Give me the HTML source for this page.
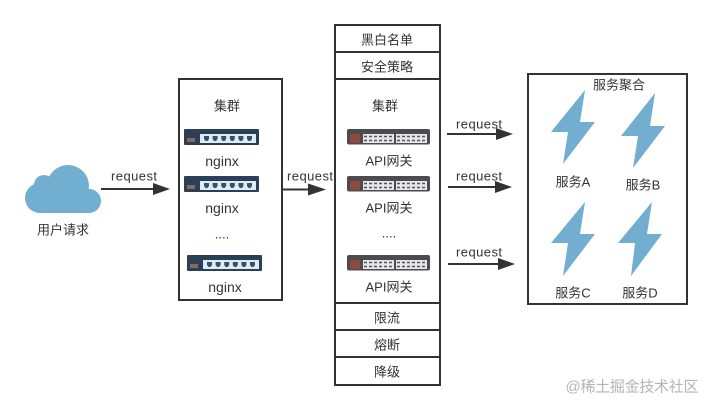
<!DOCTYPE html>
<html>
<head>
<meta charset="utf-8">
<style>
html,body{margin:0;padding:0;background:#fff;width:712px;height:409px;overflow:hidden}
svg{display:block;filter:blur(0.35px)}
text{font-family:"Liberation Sans","Noto Sans CJK SC",sans-serif;font-size:13px;fill:#333;text-anchor:middle;dominant-baseline:central}
</style>
</head>
<body>
<svg width="712" height="409" viewBox="0 0 712 409" xmlns="http://www.w3.org/2000/svg">
<defs>
<g id="ng">
  <rect x="0" y="0" width="75" height="16" rx="1" fill="#2b4057"/>
  <rect x="3" y="9" width="8" height="4" fill="#8a6a50"/>
  <rect x="16" y="5" width="56" height="9" fill="#dcebf5"/>
  <g fill="#3c5064">
    <path d="M20 7h5v3l-1.500 2h-2l-1.500-2z"/>
    <path d="M28.600 7h5v3l-1.500 2h-2l-1.500-2z"/>
    <path d="M37.200 7h5v3l-1.500 2h-2l-1.500-2z"/>
    <path d="M45.800 7h5v3l-1.500 2h-2l-1.500-2z"/>
    <path d="M54.400 7h5v3l-1.500 2h-2l-1.500-2z"/>
    <path d="M63 7h5v3l-1.500 2h-2l-1.500-2z"/>
  </g>
</g>
<g id="api">
  <rect x="0" y="0" width="83" height="15.500" rx="2" fill="#4c4c50"/>
  <rect x="3" y="5" width="10" height="9" fill="#8d4a3e"/>
  <rect x="16" y="5" width="31" height="9" fill="#e6e6ea"/>
  <rect x="49" y="5" width="31" height="9" fill="#e6e6ea"/>
  <g stroke="#555" stroke-width="1.500" stroke-dasharray="3 2">
    <path d="M17 7.500h29M17 11.500h29M50 7.500h29M50 11.500h29"/>
  </g>
</g>
</defs>

<!-- cloud -->
<g fill="#72aed0">
  <circle cx="68" cy="186" r="21"/>
  <circle cx="44" cy="185" r="10"/>
  <circle cx="40" cy="198" r="15"/>
  <circle cx="89" cy="201" r="12"/>
  <rect x="40" y="190" width="49" height="23"/>
</g>
<text x="63" y="230">用户请求</text>

<!-- boxes -->
<g fill="none" stroke="#333" stroke-width="2">
  <rect x="179" y="79" width="103" height="221"/>
  <rect x="335" y="25" width="105" height="360"/>
  <path d="M335 52H440M335 79H440M335 303H440M335 330H440M335 357H440"/>
  <rect x="528" y="74" width="159" height="230"/>
</g>

<!-- arrows -->
<g stroke="#333" stroke-width="2">
  <path d="M101 189H156"/>
  <path d="M282 189.500H310"/>
  <path d="M447 134H498"/>
  <path d="M448 187H497"/>
  <path d="M448 264H500"/>
</g>
<g fill="#333">
  <path d="M153 183L170 189L153 195Z"/>
  <path d="M308 183.500L326 189.500L308 195.500Z"/>
  <path d="M496 128L513 134L496 140Z"/>
  <path d="M495 181L512 187L495 193Z"/>
  <path d="M498 258L515 264L498 270Z"/>
</g>
<text x="134" y="176" textLength="46">request</text>
<text x="310" y="176" textLength="46">request</text>
<text x="479" y="124" textLength="46">request</text>
<text x="479" y="176" textLength="46">request</text>
<text x="479" y="252" textLength="46">request</text>

<!-- nginx column -->
<text x="227" y="106">集群</text>
<use href="#ng" x="184" y="129"/>
<text x="222" y="161" style="font-size:14px">nginx</text>
<use href="#ng" x="184" y="176"/>
<text x="222" y="208" style="font-size:14px">nginx</text>
<text x="222" y="234">....</text>
<use href="#ng" x="187" y="255"/>
<text x="225" y="287" style="font-size:14px">nginx</text>

<!-- gateway column -->
<text x="387" y="40">黑白名单</text>
<text x="387" y="67">安全策略</text>
<text x="385" y="106">集群</text>
<use href="#api" x="347" y="129"/>
<text x="389" y="161">API网关</text>
<use href="#api" x="347" y="176"/>
<text x="389" y="208">API网关</text>
<text x="389" y="233">....</text>
<use href="#api" x="347" y="255"/>
<text x="389" y="287">API网关</text>
<text x="387" y="318">限流</text>
<text x="387" y="345">熔断</text>
<text x="387" y="372">降级</text>

<!-- services -->
<text x="619" y="85">服务聚合</text>
<g fill="#72aed0">
  <path d="M585 90L551 132L568 132L563 164L595 122L580 122Z"/>
  <path d="M655 93L621 136L638 136L633 168L665 126L650 126Z"/>
  <path d="M585 202L551 243L568 243L563 276L595 234L580 234Z"/>
  <path d="M652 202L618 243L635 243L631 276L662 234L647 234Z"/>
</g>
<text x="573" y="182">服务A</text>
<text x="643" y="185">服务B</text>
<text x="573" y="293">服务C</text>
<text x="640" y="293">服务D</text>

<!-- watermark -->
<text x="632" y="387" textLength="133" style="font-size:15px;fill:#b4b4b4">@稀土掘金技术社区</text>
</svg>
</body>
</html>
